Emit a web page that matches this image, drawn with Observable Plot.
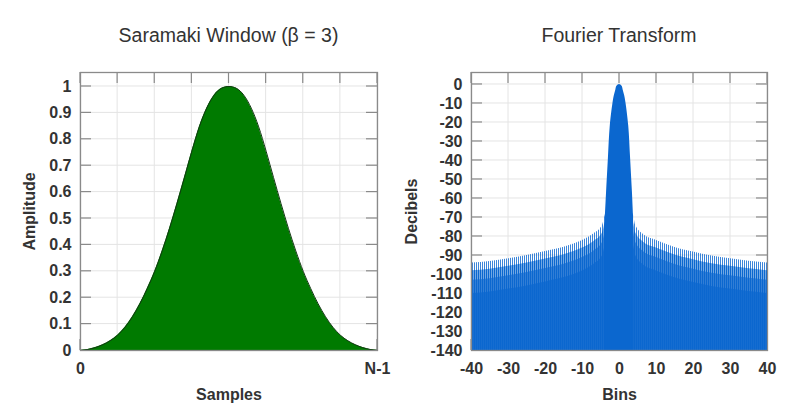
<!DOCTYPE html>
<html>
<head>
<meta charset="utf-8">
<script src="https://cdn.jsdelivr.net/npm/d3@7"></script>
<script src="https://cdn.jsdelivr.net/npm/@observablehq/plot@0.6"></script>
<style>
  html, body { margin: 0; padding: 0; background: #fff; }
  #wrap { position: relative; width: 801px; height: 415px; overflow: hidden; font-family: "Liberation Sans", Arial, sans-serif; }
  .panel { position: absolute; top: 0; height: 415px; }
  .title { position: absolute; top: 25px; font-size: 19.5px; line-height: 20px; color: #333; text-align: center; white-space: nowrap; }
  .plotbox { position: absolute; top: 60px; left: 0; }
</style>
</head>
<body>
<svg width="0" height="0" style="position:absolute">
  <defs>
    <pattern id="combA" width="2" height="20" patternUnits="userSpaceOnUse">
      <rect x="0" y="0" width="1" height="20" fill="#0b67cf" fill-opacity="0.8"></rect>
    </pattern>
    <pattern id="combB" width="2" height="20" patternUnits="userSpaceOnUse">
      <rect x="0" y="0" width="2" height="20" fill="#8ab8ea"></rect>
      <rect x="0" y="0" width="1.2" height="20" fill="#0b67cf"></rect>
    </pattern>
    <pattern id="combC" width="2" height="20" patternUnits="userSpaceOnUse">
      <rect x="0" y="0" width="2" height="20" fill="#4a8edc"></rect>
      <rect x="0" y="0" width="1.4" height="20" fill="#0b67cf"></rect>
    </pattern>
    <pattern id="combD" width="2" height="20" patternUnits="userSpaceOnUse">
      <rect x="0" y="0" width="2" height="20" fill="#2277d5"></rect>
      <rect x="0" y="0" width="1.6" height="20" fill="#0b67cf"></rect>
    </pattern>
  </defs>
</svg>
<div id="wrap">
  <div class="panel" id="left" style="left:0;width:400px;">
    <div class="title" style="left:80px;width:297px;">Saramaki Window (β = 3)</div>
    <div class="plotbox" id="leftPlot"></div>
  </div>
  <div class="panel" id="right" style="left:400px;width:401px;">
    <div class="title" style="left:71px;width:296px;">Fourier Transform</div>
    <div class="plotbox" id="rightPlot"></div>
  </div>
</div>
<script>
// ---------- Data: Saramaki window (position as fraction of 0..N-1) ----------
const samplePos = [0, 0.025, 0.05, 0.075, 0.1, 0.125, 0.15, 0.175, 0.2, 0.225, 0.25, 0.275, 0.3, 0.325, 0.35, 0.375, 0.4, 0.425, 0.45, 0.475, 0.5,
                   0.525, 0.55, 0.575, 0.6, 0.625, 0.65, 0.675, 0.7, 0.725, 0.75, 0.775, 0.8, 0.825, 0.85, 0.875, 0.9, 0.925, 0.95, 0.975, 1];
const amplitude = [0, 0.004, 0.011, 0.022, 0.037, 0.058, 0.088, 0.128, 0.177, 0.235, 0.3, 0.377, 0.463, 0.557, 0.655, 0.755, 0.847, 0.918, 0.967, 0.993, 1,
                   0.993, 0.967, 0.918, 0.847, 0.755, 0.655, 0.557, 0.463, 0.377, 0.3, 0.235, 0.177, 0.128, 0.088, 0.058, 0.037, 0.022, 0.011, 0.004, 0];
const sampleGrid = [0, 0.125, 0.25, 0.375, 0.5, 0.625, 0.75, 0.875, 1];
const sampleTicks = [0, 1];
const sampleTickLabels = ["0", "N-1"];
const ampTicks = [0, 0.1, 0.2, 0.3, 0.4, 0.5, 0.6, 0.7, 0.8, 0.9, 1];

// ---------- Data: Fourier transform (dB) ----------
// upper envelope of the side-lobe comb
const sideBins = [-40, -35, -30, -25, -20, -15, -10, -6.9, -4.6, -3.6, 3.6, 4.4, 6.6, 10, 14.8, 20, 25, 30, 35, 40];
const sideDb   = [-94, -93.2, -91.7, -90, -87.9, -85.6, -82.1, -78.6, -74.2, -68, -68, -74.2, -79.1, -82.1, -85.6, -88.2, -90.3, -91.7, -93, -94];
// main lobe
const lobeBins = [-3.8, -3.5, -3.0, -2.5, -1.77, -1.4, -1.0, -0.7, 0, 0.7, 1.0, 1.4, 1.77, 2.5, 3.0, 3.5, 3.8];
const lobeDb   = [-69, -57, -39, -22, -10, -6, -3, -1, 0, -1, -3, -6, -10, -22, -39, -57, -69];
const binTicks = [-40, -30, -20, -10, 0, 10, 20, 30, 40];
const dbTicks = [0, -10, -20, -30, -40, -50, -60, -70, -80, -90, -100, -110, -120, -130, -140];
const dbFloor = -140;

const windowData = samplePos.map((x, i) => ({x, y: amplitude[i]}));
const sideData = sideBins.map((bin, i) => ({bin, db: sideDb[i]}));
const lobeData = lobeBins.map((bin, i) => ({bin, db: lobeDb[i]}));

const FRAME = "#8a8a8a";
const GRID = "#e4e4e4";
const BLUE = "#0b67cf";

function gridLines(xt, yt) {
  return (index, scales, values, dims) => {
    const {width, height, marginTop, marginRight, marginBottom, marginLeft} = dims;
    const x0 = marginLeft, x1 = width - marginRight, y0 = marginTop, y1 = height - marginBottom;
    const g = d3.create("svg:g").attr("stroke", GRID).attr("stroke-width", 1);
    for (const t of xt) { const x = scales.x(t); g.append("line").attr("x1", x).attr("x2", x).attr("y1", y0).attr("y2", y1); }
    for (const t of yt) { const y = scales.y(t); g.append("line").attr("x1", x0).attr("x2", x1).attr("y1", y).attr("y2", y); }
    return g.node();
  };
}
function frameTicks(xt, yt, len) {
  return (index, scales, values, dims) => {
    const {width, height, marginTop, marginRight, marginBottom, marginLeft} = dims;
    const x0 = marginLeft, x1 = width - marginRight, y0 = marginTop, y1 = height - marginBottom;
    const g = d3.create("svg:g").attr("stroke", FRAME).attr("stroke-width", 1.2);
    for (const t of xt) {
      const x = scales.x(t);
      g.append("line").attr("x1", x).attr("x2", x).attr("y1", y0).attr("y2", y0 + len);
      g.append("line").attr("x1", x).attr("x2", x).attr("y1", y1).attr("y2", y1 - len);
    }
    for (const t of yt) {
      const y = scales.y(t);
      g.append("line").attr("x1", x0).attr("x2", x0 + len).attr("y1", y).attr("y2", y);
      g.append("line").attr("x1", x1).attr("x2", x1 - len).attr("y1", y).attr("y2", y);
    }
    return g.node();
  };
}

const baseStyle = {
  fontFamily: "'Liberation Sans', Arial, sans-serif",
  fontSize: "16px",
  fontWeight: "bold",
  color: "#333",
  background: "transparent",
  overflow: "visible"
};

const left = Plot.plot({
  width: 400, height: 355,
  marginLeft: 80, marginRight: 23, marginTop: 12, marginBottom: 65,
  style: baseStyle,
  x: {domain: [0, 1]},
  y: {domain: [0, 1.053]},
  marks: [
    gridLines(sampleGrid, ampTicks),
    frameTicks(sampleGrid, ampTicks, 11),
    Plot.areaY(windowData, {x: "x", y1: 0, y2: "y", fill: "#007a00", curve: "monotone-x"}),
    Plot.lineY(windowData, {x: "x", y: "y", stroke: "#123812", strokeWidth: 1, curve: "monotone-x"}),
    Plot.axisX(sampleTicks, {tickSize: 0, tickPadding: 12, tickFormat: d => sampleTickLabels[sampleTicks.indexOf(d)],
      label: "Samples", labelAnchor: "center", labelOffset: 49, labelArrow: "none"}),
    Plot.axisY(ampTicks, {tickSize: 0, tickPadding: 9, tickFormat: d => String(+d.toFixed(1)),
      label: "Amplitude", labelAnchor: "center", labelOffset: 57, labelArrow: "none"}),
    Plot.frame({stroke: FRAME, strokeWidth: 1.3})
  ]
});
document.getElementById("leftPlot").appendChild(left);

const right = Plot.plot({
  width: 401, height: 355,
  marginLeft: 71, marginRight: 34, marginTop: 12, marginBottom: 65,
  style: baseStyle,
  x: {domain: [-40, 40]},
  y: {domain: [-140, 6.3]},
  marks: [
    gridLines(binTicks, dbTicks),
    frameTicks(binTicks, dbTicks, 11),
    Plot.areaY(sideData, {x: "bin", y1: dbFloor, y2: "db", fill: "url(#combA)", curve: "monotone-x", clip: true}),
    Plot.areaY(sideData, {x: "bin", y1: dbFloor, y2: d => d.db - 4, fill: "url(#combB)", curve: "monotone-x", clip: true}),
    Plot.areaY(sideData, {x: "bin", y1: dbFloor, y2: d => d.db - 9, fill: "url(#combC)", curve: "monotone-x", clip: true}),
    Plot.areaY(sideData, {x: "bin", y1: dbFloor, y2: d => d.db - 16, fill: "url(#combD)", curve: "monotone-x", clip: true}),
    Plot.areaY(lobeData, {x: "bin", y1: dbFloor, y2: "db", fill: BLUE, curve: "catmull-rom", clip: true}),
    Plot.axisX(binTicks, {tickSize: 0, tickPadding: 12, tickFormat: d => String(d),
      label: "Bins", labelAnchor: "center", labelOffset: 49, labelArrow: "none"}),
    Plot.axisY(dbTicks, {tickSize: 0, tickPadding: 9, tickFormat: d => String(d),
      label: "Decibels", labelAnchor: "center", labelOffset: 66, labelArrow: "none"}),
    Plot.frame({stroke: FRAME, strokeWidth: 1.3})
  ]
});
document.getElementById("rightPlot").appendChild(right);
</script>
</body>
</html>
